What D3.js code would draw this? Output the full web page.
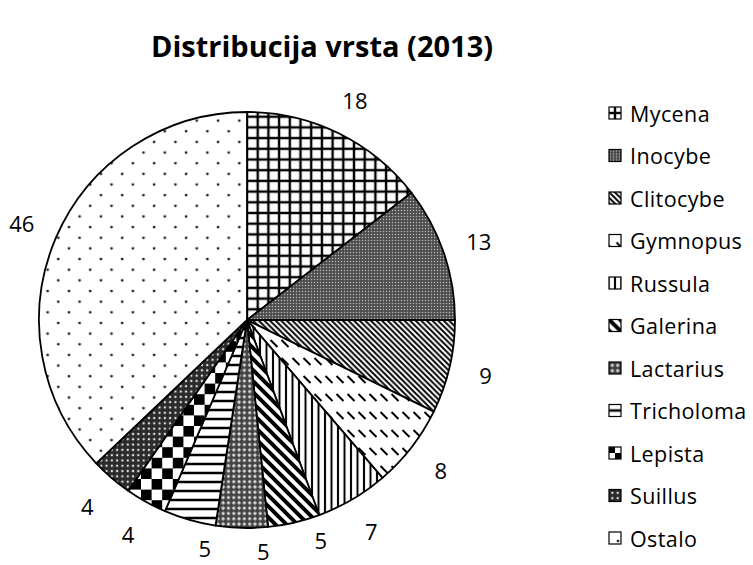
<!DOCTYPE html>
<html>
<head>
<meta charset="utf-8">
<script src="https://cdn.jsdelivr.net/npm/d3@7"></script>
<style>
  html, body { margin: 0; padding: 0; background: #fff; }
  svg { display: block; }
  text { font-family: "Open Sans", Lato, sans-serif; fill: #000; }
</style>
</head>
<body>
<svg id="chart" width="753" height="565"></svg>
<script>
// Species counts, 2013
const categories = ["Mycena", "Inocybe", "Clitocybe", "Gymnopus", "Russula", "Galerina",
                    "Lactarius", "Tricholoma", "Lepista", "Suillus", "Ostalo"];
const counts = [18, 13, 9, 8, 7, 5, 5, 5, 4, 4, 46];
const patternIds = ["p-grid", "p-fine", "p-diag", "p-dashdiag", "p-vert", "p-widediag",
                    "p-diamond", "p-horiz", "p-checker", "p-dotgrid", "p-sparse"];
const title = "Distribucija vrsta (2013)";

const W = 753, H = 565;
const cx = 247, cy = 320, R = 208;

const svg = d3.select("#chart");
const defs = svg.append("defs");

function pattern(id, w, h) {
  return defs.append("pattern").attr("id", id)
    .attr("patternUnits", "userSpaceOnUse")
    .attr("width", w).attr("height", h);
}

// small square grid
{
  const s = 10.7, p = pattern("p-grid", s, s);
  p.append("rect").attr("width", s).attr("height", s).attr("fill", "#fff");
  p.append("rect").attr("x", -1.2).attr("width", 2.4).attr("height", s).attr("fill", "#000");
  p.append("rect").attr("x", s - 1.2).attr("width", 2.4).attr("height", s).attr("fill", "#000");
  p.append("rect").attr("y", -1.2).attr("width", s).attr("height", 2.4).attr("fill", "#000");
  p.append("rect").attr("y", s - 1.2).attr("width", s).attr("height", 2.4).attr("fill", "#000");
}
// fine grey texture
{
  const s = 3, p = pattern("p-fine", s, s);
  p.append("rect").attr("width", s).attr("height", s).attr("fill", "#474747");
  p.append("rect").attr("x", 0.8).attr("y", 0.8).attr("width", 1.4).attr("height", 1.4).attr("fill", "#b8b8b8");
}
// dense downward diagonal
{
  const s = 5.6, p = pattern("p-diag", s, s);
  p.append("rect").attr("width", s).attr("height", s).attr("fill", "#fff");
  p.append("path").attr("d", `M${-s},0L${s},${2*s}M0,${-s}L${2*s},${s}M${-s},${-s}L${2*s},${2*s}`)
    .attr("stroke", "#000").attr("stroke-width", 1.9);
}
// dashed downward diagonal
{
  const w = 11, h = 18, p = pattern("p-dashdiag", w, h);
  p.append("rect").attr("width", w).attr("height", h).attr("fill", "#fff");
  p.append("path").attr("d", "M1.5,2L8.5,9").attr("stroke", "#000").attr("stroke-width", 2);
}
// vertical lines
{
  const s = 6.5, p = pattern("p-vert", s, s);
  p.append("rect").attr("width", s).attr("height", s).attr("fill", "#fff");
  p.append("rect").attr("x", -1).attr("width", 2).attr("height", s).attr("fill", "#000");
  p.append("rect").attr("x", s - 1).attr("width", 2).attr("height", s).attr("fill", "#000");
}
// wide downward diagonal
{
  const s = 11, p = pattern("p-widediag", s, s);
  p.append("rect").attr("width", s).attr("height", s).attr("fill", "#fff");
  p.append("path").attr("d", `M${-s},0L${s},${2*s}M0,${-s}L${2*s},${s}M${-s},${-s}L${2*s},${2*s}`)
    .attr("stroke", "#000").attr("stroke-width", 4);
}
// grey diamond texture
{
  const s = 5.3, p = pattern("p-diamond", s, s);
  p.append("rect").attr("width", s).attr("height", s).attr("fill", "#444");
  p.append("path").attr("d", `M${s/2},0.7L${s-0.7},${s/2}L${s/2},${s-0.7}L0.7,${s/2}Z`).attr("fill", "#d4d4d4");
}
// horizontal lines
{
  const s = 9, p = pattern("p-horiz", s, s);
  p.append("rect").attr("width", s).attr("height", s).attr("fill", "#fff");
  p.append("rect").attr("y", -1.25).attr("width", s).attr("height", 2.5).attr("fill", "#000");
  p.append("rect").attr("y", s - 1.25).attr("width", s).attr("height", 2.5).attr("fill", "#000");
}
// large checkerboard
{
  const s = 10.6, p = pattern("p-checker", 2*s, 2*s);
  p.append("rect").attr("width", 2*s).attr("height", 2*s).attr("fill", "#fff");
  p.append("rect").attr("width", s).attr("height", s).attr("fill", "#000");
  p.append("rect").attr("x", s).attr("y", s).attr("width", s).attr("height", s).attr("fill", "#000");
}
// dark dotted grid
{
  const s = 5.3, p = pattern("p-dotgrid", s, s);
  p.append("rect").attr("width", s).attr("height", s).attr("fill", "#2a2a2a");
  p.append("rect").attr("x", 1.6).attr("y", 1.6).attr("width", 2.1).attr("height", 2.1).attr("fill", "#e0e0e0");
}
// sparse staggered dots
{
  const s = 21.3, p = pattern("p-sparse", s, s);
  p.append("rect").attr("width", s).attr("height", s).attr("fill", "#fff");
  p.append("circle").attr("cx", 3).attr("cy", 3).attr("r", 1.4).attr("fill", "#222");
  p.append("circle").attr("cx", 3 + s/2).attr("cy", 3 + s/2).attr("r", 1.4).attr("fill", "#222");
}

const pie = d3.pie().sort(null).value(d => d.value);
const data = categories.map((c, i) => ({ name: c, value: counts[i], pat: patternIds[i] }));
const arcs = pie(data);
const arc = d3.arc().innerRadius(0).outerRadius(R);

const g = svg.append("g").attr("transform", `translate(${cx},${cy})`);
g.selectAll("path.slice").data(arcs).join("path")
  .attr("class", "slice")
  .attr("d", arc)
  .attr("fill", d => `url(#${d.data.pat})`)
  .attr("stroke", "#000").attr("stroke-width", 1.8).attr("stroke-linejoin", "round");

// value labels sit outside the rim; ones that would fall off the bottom are
// swung back a little along the rim and pulled in
const labelR = 245, bottomLimit = H - cy - 20;
function labelPos(d) {
  let a = (d.startAngle + d.endAngle) / 2, r = labelR;
  if (-Math.cos(a) * r > bottomLimit) { a -= 0.096; r = 232; }
  return [Math.sin(a) * r, -Math.cos(a) * r];
}
g.selectAll("text.val").data(arcs).join("text")
  .attr("class", "val")
  .attr("transform", d => `translate(${labelPos(d)})`)
  .attr("text-anchor", "middle").attr("dominant-baseline", "central")
  .attr("font-size", 22)
  .text(d => d.data.value);

// title
svg.append("text")
  .attr("x", 322).attr("y", 45)
  .attr("text-anchor", "middle").attr("dominant-baseline", "central")
  .attr("font-size", 29).attr("font-weight", "bold")
  .text(title);

// legend
const legendY = d3.scalePoint().domain(categories).range([113, 538]);
const lg = svg.append("g");
const items = lg.selectAll("g").data(data).join("g")
  .attr("transform", d => `translate(615,${legendY(d.name)})`);
items.append("rect")
  .attr("x", -6).attr("y", -6).attr("width", 12).attr("height", 12)
  .attr("fill", d => `url(#${d.pat})`)
  .attr("stroke", "#000").attr("stroke-width", 1.2);
items.append("text")
  .attr("x", 15).attr("y", 0)
  .attr("dominant-baseline", "central")
  .attr("font-size", 21.5).attr("letter-spacing", 0.4)
  .text(d => d.name);
</script>
</body>
</html>
